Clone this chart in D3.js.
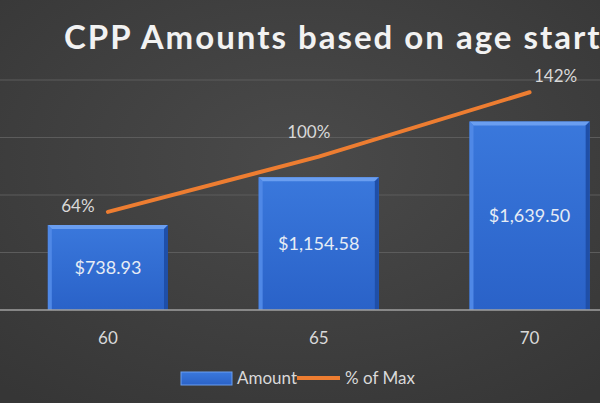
<!DOCTYPE html>
<html><head><meta charset="utf-8">
<script src="https://cdn.jsdelivr.net/npm/d3@7"></script>
<style>body{margin:0;background:#404040}svg{display:block}text{font-family:Lato,"Open Sans",sans-serif}</style>
</head><body><svg width="600" height="403"></svg>
<script>
const ages = ["60", "65", "70"];
const amounts = [738.93, 1154.58, 1639.50];
const amountLabels = ["$738.93", "$1,154.58", "$1,639.50"];
const pctOfMax = [64, 100, 142];
const gridTicks = [0, 500, 1000, 1500, 2000];

const svg = d3.select("svg");
const defs = svg.append("defs");
const bg = defs.append("radialGradient").attr("id", "bg").attr("cx", "50%").attr("cy", "40%").attr("r", "75%");
bg.append("stop").attr("offset", "0%").attr("stop-color", "#4a4a4a");
bg.append("stop").attr("offset", "100%").attr("stop-color", "#363636");
const bar = defs.append("linearGradient").attr("id", "bar").attr("x1", 0).attr("x2", 0).attr("y1", 0).attr("y2", 1);
bar.append("stop").attr("offset", "0%").attr("stop-color", "#3a78dc");
bar.append("stop").attr("offset", "100%").attr("stop-color", "#2a62c8");

svg.append("rect").attr("width", 600).attr("height", 403).attr("fill", "url(#bg)");

const x = d3.scaleBand().domain(ages).range([2.5, 635]).paddingInner(0.43).paddingOuter(0.215);
const y = d3.scaleLinear().domain([0, 2000]).range([310, 80]);
const y2 = d3.scaleLinear().domain([0, 150]).range([310, 80]);

svg.append("g").selectAll("line").data(gridTicks.slice(1)).join("line")
	.attr("x1", 0).attr("x2", 600)
	.attr("y1", d => y(d)).attr("y2", d => y(d))
	.attr("stroke", "#5c5c5c").attr("stroke-width", 1);

const bars = svg.append("g").selectAll("g").data(amounts).join("g");
bars.append("rect")
	.attr("x", (d, i) => x(ages[i])).attr("width", x.bandwidth())
	.attr("y", d => y(d)).attr("height", d => y(0) - y(d))
	.attr("fill", "url(#bar)");
// bevel edges
bars.append("path")
	.attr("d", (d, i) => {
		const x0 = x(ages[i]), x1 = x0 + x.bandwidth(), t = y(d);
		return `M${x0},${t}L${x1},${t}L${x1 - 4},${t + 4}L${x0 + 4},${t + 4}Z`;
	}).attr("fill", "#6a9ef0");
bars.append("path")
	.attr("d", (d, i) => {
		const x0 = x(ages[i]), t = y(d);
		return `M${x0},${t}L${x0 + 4},${t + 4}L${x0 + 4},${y(0)}L${x0},${y(0)}Z`;
	}).attr("fill", "#4f88e6");
bars.append("path")
	.attr("d", (d, i) => {
		const x1 = x(ages[i]) + x.bandwidth(), t = y(d);
		return `M${x1},${t}L${x1 - 4},${t + 4}L${x1 - 4},${y(0)}L${x1},${y(0)}Z`;
	}).attr("fill", "#1f4fa8");
bars.append("text")
	.attr("x", (d, i) => x(ages[i]) + x.bandwidth() / 2)
	.attr("y", d => (y(d) + y(0)) / 2 + 6)
	.attr("text-anchor", "middle").attr("fill", "#e6ecf5").attr("font-size", 18)
	.text((d, i) => amountLabels[i]);

svg.append("line").attr("x1", 0).attr("x2", 600).attr("y1", y(0)).attr("y2", y(0))
	.attr("stroke", "#a0a0a0").attr("stroke-width", 1.5);

const cx = d => x(d) + x.bandwidth() / 2;
svg.append("path").datum(pctOfMax)
	.attr("d", d3.line().x((d, i) => cx(ages[i])).y(d => y2(d)))
	.attr("fill", "none").attr("stroke", "#ed7d31").attr("stroke-width", 4).attr("stroke-linecap", "round");
svg.append("g").selectAll("text").data(pctOfMax).join("text")
	.attr("x", (d, i) => cx(ages[i]) - (i === 0 ? 30 : i === 1 ? 10 : -26))
	.attr("y", (d, i) => y2(d) - (i === 0 ? 0 : i === 1 ? 19 : 10))
	.attr("text-anchor", "middle").attr("fill", "#d9d9d9").attr("font-size", 17)
	.text(d => d + "%");

svg.append("g").selectAll("text").data(ages).join("text")
	.attr("x", d => cx(d)).attr("y", 344)
	.attr("text-anchor", "middle").attr("fill", "#d9d9d9").attr("font-size", 17)
	.text(d => d);

svg.append("text").attr("x", 64).attr("y", 49).attr("fill", "#f2f2f2")
	.attr("font-size", 33).attr("font-weight", "bold").attr("letter-spacing", 2)
	.text("CPP Amounts based on age start");

const lg = svg.append("g");
lg.append("rect").attr("x", 181).attr("y", 372).attr("width", 51).attr("height", 13).attr("fill", "url(#bar)").attr("stroke", "#6a9ef0");
lg.append("text").attr("x", 237).attr("y", 384).attr("fill", "#d9d9d9").attr("font-size", 17).text("Amount");
lg.append("line").attr("x1", 297).attr("x2", 340).attr("y1", 378).attr("y2", 378).attr("stroke", "#ed7d31").attr("stroke-width", 4);
lg.append("text").attr("x", 345).attr("y", 384).attr("fill", "#d9d9d9").attr("font-size", 17).text("% of Max");
</script></body></html>
